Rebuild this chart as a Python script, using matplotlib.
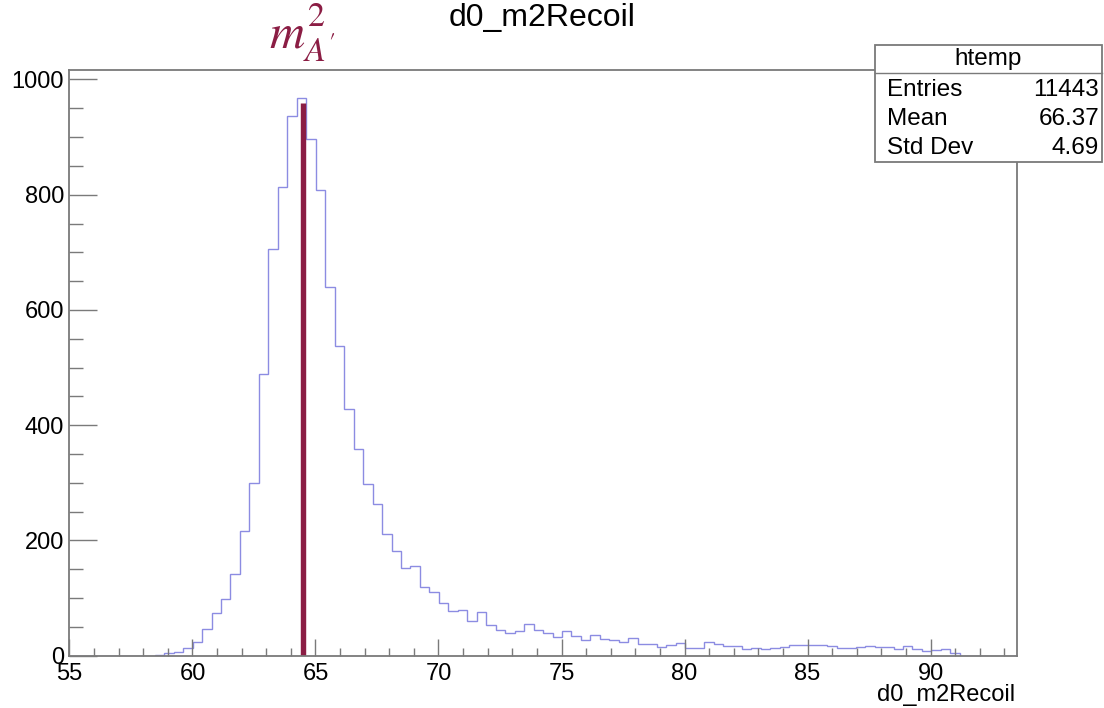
import numpy as np
import matplotlib
matplotlib.use("Agg")
import matplotlib.pyplot as plt
from matplotlib.patches import Rectangle
from matplotlib.lines import Line2D
from matplotlib.ticker import MultipleLocator
import matplotlib.transforms as mtransforms

plt.rcParams['font.family'] = ['Liberation Sans', 'DejaVu Sans']
plt.rcParams['mathtext.fontset'] = 'stix'

# histogram: 100 bins from 55 to 93.5
x_min, x_max, n_bins = 55.0, 93.5, 100
counts = [0, 0, 0, 0, 0, 0, 0, 0, 0,
          2, 5, 7, 13,
          23, 46, 74, 99, 141, 217, 300,
          488, 705, 813, 937, 968, 896, 808, 640, 537,
          428, 358, 298, 263, 211, 182,
          153, 156, 119, 110, 91, 77, 79, 60, 76, 53, 45, 40, 42, 55, 45,
          39, 32, 42, 35, 28, 36, 29, 27, 24, 31, 21, 20, 15, 18, 22, 13, 14,
          23, 20, 16, 16, 12, 13, 12, 14, 15, 19, 19, 19, 19, 16,
          13, 13, 15, 16, 15, 15, 12, 16, 12, 8, 10, 11, 5,
          0, 0, 0, 0, 0, 0]
edges = np.linspace(x_min, x_max, n_bins + 1)

# marker of the expected peak
m2_peak = 64.48
m2_height = 960

stats_name = "htemp"
stats_labels = ["Entries", "Mean", "Std Dev"]
stats_values = ["11443", "66.37", "4.69"]

title = "d0_m2Recoil"
xlabel = "d0_m2Recoil"

hist_color = '#8c8ce2'
mark_color = '#8b1d44'
frame_color = '#7a7a7a'

fig = plt.figure(figsize=(11.04, 7.08), dpi=100)
ax = fig.add_axes([0.0629, 0.0739, 0.858, 0.8272])

ax.stairs(counts, edges, color=hist_color, lw=1.0)
ax.vlines(m2_peak, 0, m2_height, color=mark_color, lw=3.9)

ax.set_xlim(x_min, x_max)
ax.set_ylim(0, 1.05 * max(counts))

# ROOT-like axes: ticks inside, only left and bottom
ax.xaxis.set_major_locator(MultipleLocator(5))
ax.xaxis.set_minor_locator(MultipleLocator(1))
ax.yaxis.set_major_locator(MultipleLocator(200))
ax.yaxis.set_minor_locator(MultipleLocator(50))
ax.tick_params(axis='x', which='major', direction='in', length=12, width=1.0,
               color=frame_color, labelsize=17, pad=5)
ax.tick_params(axis='x', which='minor', direction='in', length=6, width=1.0,
               color=frame_color)
ax.tick_params(axis='y', which='major', direction='in', length=20, width=1.0,
               color=frame_color, labelsize=17, pad=4)
ax.tick_params(axis='y', which='minor', direction='in', length=10, width=1.0,
               color=frame_color)
for s in ax.spines.values():
    s.set_color(frame_color)
    s.set_linewidth(1.3)

# annotation above the bar
trans = mtransforms.blended_transform_factory(ax.transData, ax.transAxes)
ax.text(m2_peak, 1.037, r'$m^2_{A^{\prime}}$', transform=trans, ha='center',
        va='baseline', fontsize=35, color=mark_color, clip_on=False)

fig.text(0.4907, 0.974, title, ha='center', va='center', fontsize=23)
fig.text(1015 / 1104, 1 - 695 / 708, xlabel, ha='right', va='center', fontsize=17)

# stats box
bx0, bx1 = 875 / 1104, 1102 / 1104
by0, by1 = 1 - 162 / 708, 1 - 45 / 708
fig.patches.append(Rectangle((bx0, by0), bx1 - bx0, by1 - by0, transform=fig.transFigure,
                             facecolor='white', edgecolor=frame_color, lw=1.3, zorder=5))
hy = 1 - 73 / 708
fig.lines.append(Line2D([bx0, bx1], [hy, hy], transform=fig.transFigure,
                        color=frame_color, lw=1.0, zorder=6))
fig.text((bx0 + bx1) / 2, 1 - 59 / 708, stats_name, ha='center', va='center',
         fontsize=17.5, zorder=7)
row_y = [90, 119, 148]
for lab, val, yy in zip(stats_labels, stats_values, row_y):
    fig.text(887 / 1104, 1 - yy / 708, lab, ha='left', va='center', fontsize=17.5, zorder=7)
    fig.text(1099 / 1104, 1 - yy / 708, val, ha='right', va='center', fontsize=17.5, zorder=7)

fig.savefig("out.png", dpi=100)
